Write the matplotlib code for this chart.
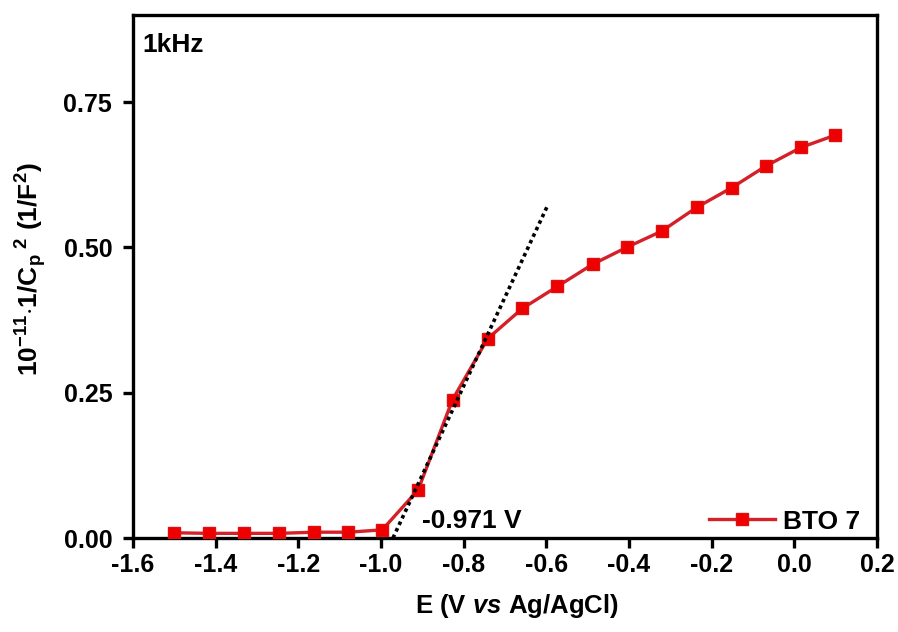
import matplotlib
matplotlib.use("Agg")
import matplotlib.pyplot as plt

plt.rcParams['font.family'] = ['Liberation Sans', 'DejaVu Sans']
plt.rcParams['font.weight'] = 'bold'
plt.rcParams['mathtext.fontset'] = 'custom'
plt.rcParams['mathtext.rm'] = 'Liberation Sans:bold'
plt.rcParams['mathtext.bf'] = 'Liberation Sans:bold'
plt.rcParams['mathtext.it'] = 'Liberation Sans:bold:italic'
plt.rcParams['mathtext.default'] = 'rm'

# Data
E = [-1.501, -1.416, -1.331, -1.246, -1.161, -1.079, -0.997, -0.910, -0.827,
     -0.742, -0.658, -0.573, -0.488, -0.406, -0.321, -0.236, -0.151, -0.069,
     0.016, 0.098]
inv_C2 = [0.009, 0.008, 0.008, 0.008, 0.010, 0.010, 0.014, 0.083, 0.238,
          0.343, 0.395, 0.433, 0.471, 0.500, 0.528, 0.569, 0.603, 0.640,
          0.672, 0.693]
tangent_x = [-0.971, -0.597]
tangent_y = [0.0, 0.572]
xticks = [-1.6, -1.4, -1.2, -1.0, -0.8, -0.6, -0.4, -0.2, 0.0, 0.2]
yticks = [0.00, 0.25, 0.50, 0.75]

fig = plt.figure(figsize=(8.98, 6.32), dpi=100)
ax = fig.add_axes([133/898, 1-538/632, (877-133)/898, (538-15)/632])

ax.plot(E, inv_C2, color='#d42028', lw=2.4, marker='s', markersize=9,
        markerfacecolor='#ee0000', markeredgecolor='#e01010', label='BTO 7', zorder=3)
ax.plot(tangent_x, tangent_y, color='black', lw=2.6, ls=(0, (1, 1)), zorder=4)

ax.set_xlim(-1.6, 0.2)
ax.set_ylim(0, 0.9)
ax.set_xticks(xticks)
ax.set_xticklabels([f"{v:.1f}" for v in xticks])
ax.set_yticks(yticks)
ax.set_yticklabels([f"{v:.2f}" for v in yticks])

for s in ax.spines.values():
    s.set_linewidth(2.4)
ax.tick_params(direction='out', length=7, width=2.4, labelsize=18)
ax.tick_params(axis='x', pad=4)
ax.tick_params(axis='y', pad=8)

ax.set_xlabel(r'E (V $\mathit{vs}$ Ag/AgCl)', fontsize=18.5, fontweight='bold')
ax.xaxis.set_label_coords(0.516, -0.103)
ax.set_ylabel(r'$10^{-11}$$\cdot$1/C$_\mathrm{p}$$^{\ 2}$ (1/F$^2$)', fontsize=19,
              fontweight='bold')
ax.yaxis.set_label_coords(-0.113, 0.514)

ax.text(0.013, 0.943, '1kHz', transform=ax.transAxes, fontsize=19, fontweight='bold',
        va='center', ha='left')
ax.text(-0.9, 0.03, '-0.971 V', fontsize=19, fontweight='bold', va='center', ha='left')

leg = ax.legend(loc='lower right', frameon=False, fontsize=19, handlelength=2.5,
                bbox_to_anchor=(0.992, -0.012), borderaxespad=0.0, handletextpad=0.3)

fig.savefig('out.png', dpi=100)
